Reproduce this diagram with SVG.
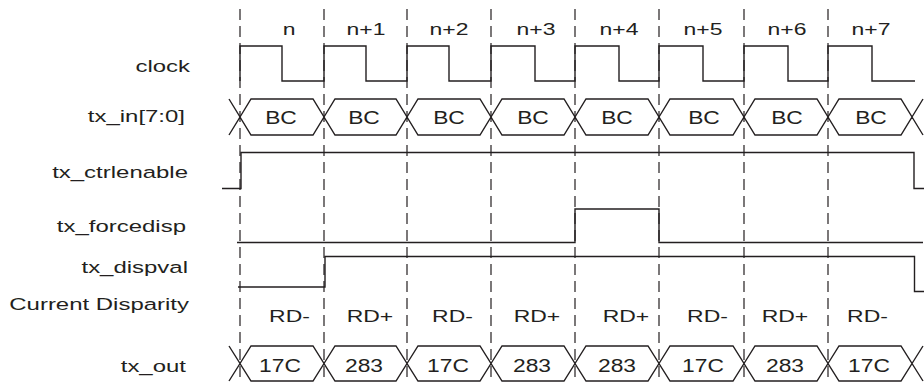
<svg xmlns="http://www.w3.org/2000/svg" width="924" height="382" viewBox="0 0 924 382">
<style>
  .lbl { font-family: "Liberation Sans", Arial, sans-serif; font-size: 17px; fill: #231f20; text-anchor: end; }
  .hdr { font-family: "Liberation Sans", Arial, sans-serif; font-size: 17px; fill: #231f20; text-anchor: middle; }
  .bus { font-family: "Liberation Sans", Arial, sans-serif; font-size: 19px; fill: #231f20; text-anchor: middle; }
  .sig { fill: none; stroke: #231f20; stroke-width: 1.4; stroke-linejoin: miter; }
  .grid { fill: none; stroke: #231f20; stroke-width: 1.2; stroke-dasharray: 11 6; }
</style>
<rect width="924" height="382" fill="#ffffff"/>

<g id="gridlines">
  <path class="grid" d="M240,9 V382 M324,9 V382 M407,9 V382 M491,9 V382 M575,9 V382 M659,9 V382 M744,9 V382 M828,9 V382"/>
</g>

<g id="cycle-labels">
  <text class="hdr" transform="translate(289,35) scale(1.35,1)">n</text>
  <text class="hdr" transform="translate(366,35) scale(1.35,1)">n+1</text>
  <text class="hdr" transform="translate(449,35) scale(1.35,1)">n+2</text>
  <text class="hdr" transform="translate(536,35) scale(1.35,1)">n+3</text>
  <text class="hdr" transform="translate(619,35) scale(1.35,1)">n+4</text>
  <text class="hdr" transform="translate(703,35) scale(1.35,1)">n+5</text>
  <text class="hdr" transform="translate(787,35) scale(1.35,1)">n+6</text>
  <text class="hdr" transform="translate(871,35) scale(1.35,1)">n+7</text>
</g>

<g id="clock">
  <text class="lbl" transform="translate(190,71.5) scale(1.41,1)">clock</text>
  <path class="sig" d="M240,81 V46 H282 V81 H324 V46 H366 V81 H407 V46 H449 V81 H491 V46 H535 V81 H575 V46 H619 V81 H659 V46 H703 V81 H744 V46 H788 V81 H828 V46 H872 V81 H915"/>
</g>

<g id="tx_in">
  <text class="lbl" transform="translate(185,122) scale(1.41,1)">tx_in[7:0]</text>
  <path class="sig" d="M229,99 L240,117 L229,135
    M240,117 L251,99 H313 L324,117 L313,135 H251 Z
    M324,117 L335,99 H396 L407,117 L396,135 H335 Z
    M407,117 L418,99 H480 L491,117 L480,135 H418 Z
    M491,117 L502,99 H564 L575,117 L564,135 H502 Z
    M575,117 L586,99 H648 L659,117 L648,135 H586 Z
    M659,117 L670,99 H733 L744,117 L733,135 H670 Z
    M744,117 L755,99 H817 L828,117 L817,135 H755 Z
    M828,117 L839,99 H901 L912,117 L901,135 H839 Z
    M912,117 L923,99 M912,117 L923,135"/>
  <text class="bus" transform="translate(281,124) scale(1.2,1)">BC</text>
  <text class="bus" transform="translate(364,124) scale(1.2,1)">BC</text>
  <text class="bus" transform="translate(449,124) scale(1.2,1)">BC</text>
  <text class="bus" transform="translate(533,124) scale(1.2,1)">BC</text>
  <text class="bus" transform="translate(617,124) scale(1.2,1)">BC</text>
  <text class="bus" transform="translate(704,124) scale(1.2,1)">BC</text>
  <text class="bus" transform="translate(787,124) scale(1.2,1)">BC</text>
  <text class="bus" transform="translate(871,124) scale(1.2,1)">BC</text>
</g>

<g id="tx_ctrlenable">
  <text class="lbl" transform="translate(188,177.5) scale(1.41,1)">tx_ctrlenable</text>
  <path class="sig" d="M222,188.5 H241 V152.5 H914 V188.5 H924"/>
</g>

<g id="tx_forcedisp">
  <text class="lbl" transform="translate(186,231.5) scale(1.41,1)">tx_forcedisp</text>
  <path class="sig" d="M237,242.5 H575 V209 H659 V242.5 H923"/>
</g>

<g id="tx_dispval">
  <text class="lbl" transform="translate(188,273) scale(1.41,1)">tx_dispval</text>
  <path class="sig" d="M238,287 H325 V256.5 H914.5 V291.5 H924"/>
</g>

<g id="current_disparity">
  <text class="lbl" transform="translate(189,310) scale(1.41,1)">Current Disparity</text>
  <text class="hdr" transform="translate(289.5,322) scale(1.35,1)">RD-</text>
  <text class="hdr" transform="translate(370,322) scale(1.35,1)">RD+</text>
  <text class="hdr" transform="translate(452.5,322) scale(1.35,1)">RD-</text>
  <text class="hdr" transform="translate(537,322) scale(1.35,1)">RD+</text>
  <text class="hdr" transform="translate(626,322) scale(1.35,1)">RD+</text>
  <text class="hdr" transform="translate(707.5,322) scale(1.35,1)">RD-</text>
  <text class="hdr" transform="translate(785,322) scale(1.35,1)">RD+</text>
  <text class="hdr" transform="translate(867.5,322) scale(1.35,1)">RD-</text>
</g>

<g id="tx_out">
  <text class="lbl" transform="translate(186,372) scale(1.41,1)">tx_out</text>
  <path class="sig" d="M229,346 L240,363.5 L229,381
    M240,363.5 L251,346 H313 L324,363.5 L313,381 H251 Z
    M324,363.5 L335,346 H396 L407,363.5 L396,381 H335 Z
    M407,363.5 L418,346 H480 L491,363.5 L480,381 H418 Z
    M491,363.5 L502,346 H564 L575,363.5 L564,381 H502 Z
    M575,363.5 L586,346 H648 L659,363.5 L648,381 H586 Z
    M659,363.5 L670,346 H733 L744,363.5 L733,381 H670 Z
    M744,363.5 L755,346 H817 L828,363.5 L817,381 H755 Z
    M828,363.5 L839,346 H901 L912,363.5 L901,381 H839 Z
    M912,363.5 L923,346 M912,363.5 L923,381"/>
  <text class="bus" transform="translate(280,372) scale(1.2,1)">17C</text>
  <text class="bus" transform="translate(364,372) scale(1.2,1)">283</text>
  <text class="bus" transform="translate(448,372) scale(1.2,1)">17C</text>
  <text class="bus" transform="translate(532,372) scale(1.2,1)">283</text>
  <text class="bus" transform="translate(617,372) scale(1.2,1)">283</text>
  <text class="bus" transform="translate(703,372) scale(1.2,1)">17C</text>
  <text class="bus" transform="translate(785,372) scale(1.2,1)">283</text>
  <text class="bus" transform="translate(869,372) scale(1.2,1)">17C</text>
</g>
</svg>
